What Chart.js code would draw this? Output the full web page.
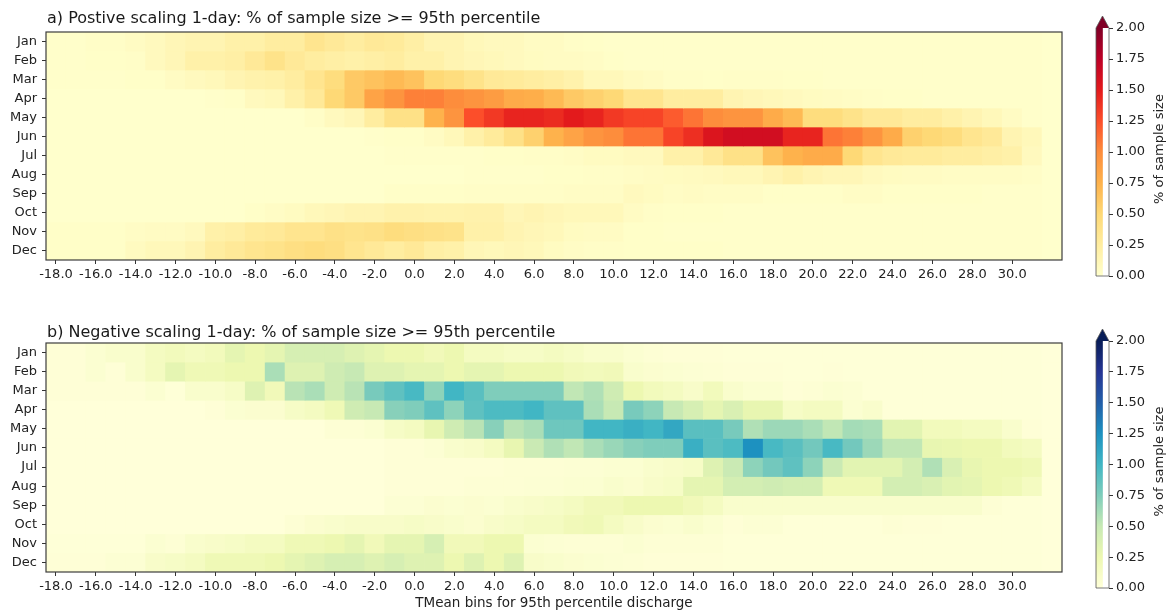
<!DOCTYPE html>
<html><head><meta charset="utf-8">
<script src="https://cdn.jsdelivr.net/npm/chart.js@4.4.0/dist/chart.umd.min.js"></script>
<style>
html,body{margin:0;padding:0;background:#fff;width:1172px;height:612px;overflow:hidden}
.box{position:absolute}
</style></head><body>
<div class="box" style="left:0;top:0;width:1080px;height:300px"><canvas id="hmA"></canvas></div>
<div class="box" style="left:1080px;top:0;width:92px;height:300px"><canvas id="cbA"></canvas></div>
<div class="box" style="left:0;top:310px;width:1080px;height:302px"><canvas id="hmB"></canvas></div>
<div class="box" style="left:1080px;top:310px;width:92px;height:302px"><canvas id="cbB"></canvas></div>
<script>
const months = ['Jan','Feb','Mar','Apr','May','Jun','Jul','Aug','Sep','Oct','Nov','Dec'];
const tempBins = [-18,-17,-16,-15,-14,-13,-12,-11,-10,-9,-8,-7,-6,-5,-4,-3,-2,-1,0,1,2,3,4,5,6,7,8,9,10,11,12,13,14,15,16,17,18,19,20,21,22,23,24,25,26,27,28,29,30,31,32];
const xTickValues = [-18,-16,-14,-12,-10,-8,-6,-4,-2,0,2,4,6,8,10,12,14,16,18,20,22,24,26,28,30];
const cbTickValues = [0,0.25,0.5,0.75,1,1.25,1.5,1.75,2];
const titleA = 'a) Postive scaling 1-day: % of sample size >= 95th percentile';
const titleB = 'b) Negative scaling 1-day: % of sample size >= 95th percentile';
const xTitle = 'TMean bins for 95th percentile discharge';
const cbLabel = '% of sample size';

// values (% of sample size), one row per month, columns = tempBins
const positive = [
 [0.01,0.01,0.03,0.03,0.05,0.08,0.12,0.15,0.15,0.2,0.2,0.25,0.25,0.35,0.3,0.25,0.3,
  0.28,0.22,0.15,0.15,0.1,0.08,0.08,0.05,0.05,0.03,0.02,0.01,0.01,0.01,0.01,0.01,0.01,
  0.01,0.01,0.01,0.01, 0.01,0.01,0.01,0.01, 0.01,0.01,0.01,0.01, 0.01,0.01,0.01,0.01, 0],
 [0.01,0.01,0.02,0.02,0.03,0.08,0.12,0.2,0.2,0.22,0.3,0.38,0.3,0.25,0.22,0.2,0.22,
  0.25,0.2,0.2,0.15,0.12,0.1,0.08,0.06,0.05,0.05,0.04,0.02,0.01,0.01,0.01,0.01,0.01,
  0.01,0.01,0.01,0.01, 0.01,0.01,0.01,0.01, 0.01,0.01,0.01,0.01, 0.01,0.01,0.01,0.01, 0],
 [0.01,0.01,0.01,0.01,0.02,0.02,0.05,0.08,0.1,0.15,0.18,0.2,0.25,0.35,0.45,0.6,0.65,
  0.7,0.65,0.5,0.45,0.38,0.3,0.28,0.25,0.22,0.18,0.1,0.1,0.07,0.05,0.03,0.03,0.02,
  0.03,0.03,0.03,0.02,0.02,0.01,0.01,0.01,0.01,0.01,0.01,0.01,0.01,0.01,0.01,0.01,0],
 [0,0,0,0,0,0,0,0,0.01,0.02,0.08,0.1,0.2,0.3,0.5,0.6,0.85,
  0.95,1.05,1.05,1.0,0.95,0.9,0.8,0.78,0.7,0.6,0.55,0.5,0.35,0.35,0.25,0.25,0.25,
  0.15,0.12,0.1,0.08,0.06,0.05,0.04,0.03,0.02,0.02,0.01,0.01,0.01,0.01,0.01,0.01,0],
 [0,0,0,0,0,0,0,0,0,0,0,0,0,0.03,0.08,0.12,0.25,
  0.4,0.4,0.75,0.95,1.25,1.35,1.45,1.45,1.42,1.5,1.45,1.35,1.3,1.3,1.2,1.1,1.0,
  0.95,0.95,0.8,0.7,0.45,0.45,0.38,0.3,0.3,0.25,0.25,0.2,0.15,0.1,0.05,0.01,0],
 [0,0,0,0, 0,0,0,0, 0,0,0,0, 0,0,0,0, 0.01,
  0.02,0.02,0.05,0.1,0.2,0.28,0.4,0.55,0.75,0.85,0.95,1.0,1.1,1.1,1.3,1.4,1.55,
  1.62,1.62,1.62,1.45,1.45,1.1,1.05,0.95,0.8,0.55,0.5,0.45,0.35,0.3,0.15,0.1,0],
 [0,0,0,0, 0,0,0,0, 0,0,0,0, 0,0,0,0, 0,
  0.01,0.01,0.01,0.01,0.01,0.02,0.02,0.03,0.03,0.04,0.06,0.06,0.08,0.08,0.2,0.2,0.3,
  0.4,0.4,0.65,0.75,0.8,0.8,0.5,0.35,0.3,0.28,0.28,0.25,0.25,0.22,0.2,0.08,0],
 [0,0,0,0, 0,0,0,0, 0,0,0,0, 0,0,0,0, 0,
  0,0,0,0,0.01,0.01,0.01,0.01,0.02,0.02,0.03,0.03,0.04,0.05,0.06,0.07,0.08,
  0.1,0.1,0.15,0.2,0.15,0.12,0.12,0.08,0.06,0.05,0.05,0.04,0.04,0.04,0.04,0.03,0],
 [0,0,0,0, 0,0,0,0, 0,0,0,0, 0,0,0,0, 0,
  0.02,0.02,0.02,0.02,0.03,0.03,0.03,0.03,0.03,0.04,0.04,0.04,0.08,0.06,0.04,0.05,0.04,
  0.04,0.04,0.02,0.02,0.02,0.02,0.04,0.04,0.02,0.02,0.02,0.02,0.02,0.01,0.01,0.01,0],
 [0,0,0,0,0,0,0,0,0,0,0.02,0.04,0.06,0.1,0.12,0.15,0.15,
  0.18,0.18,0.17,0.17,0.18,0.18,0.12,0.15,0.12,0.1,0.1,0.1,0.05,0.03,0.02,0.02,0.02,
  0.01,0.01,0.01,0.01, 0.01,0.01,0.01,0.01, 0.01,0.01,0.01,0.01, 0.01,0.01,0.01,0.01, 0],
 [0.02,0.02,0.02,0.02,0.04,0.05,0.05,0.08,0.2,0.22,0.28,0.3,0.35,0.35,0.4,0.38,0.4,
  0.45,0.42,0.4,0.38,0.2,0.2,0.15,0.12,0.1,0.06,0.05,0.05,0.02,0.02,0.01,0.01,0.01,
  0.01,0.01,0.01,0.01, 0.01,0.01,0.01,0.01, 0.01,0.01,0.01,0.01, 0.01,0.01,0.01,0.01, 0],
 [0.02,0.02,0.02,0.02,0.07,0.1,0.1,0.15,0.25,0.3,0.35,0.38,0.42,0.45,0.42,0.35,0.3,
  0.25,0.3,0.22,0.2,0.12,0.1,0.12,0.1,0.06,0.04,0.03,0.03,0.02,0.02,0.02,0.02,0.02,
  0.01,0.01,0.01,0.01, 0.01,0.01,0.01,0.01, 0.01,0.01,0.01,0.01, 0.01,0.01,0.01,0.01, 0]
];

const negative = [
 [0.02,0.02,0.05,0.08,0.08,0.15,0.18,0.15,0.18,0.3,0.25,0.3,0.4,0.4,0.4,0.35,0.3,
  0.25,0.25,0.2,0.25,0.15,0.15,0.12,0.12,0.15,0.12,0.08,0.08,0.05,0.03,0.02,0.02,0.02,
  0.01,0.01,0.01,0.01, 0.01,0.01,0.01,0.01, 0.01,0.01,0.01,0.01, 0.01,0.01,0.01,0.01, 0],
 [0.02,0.02,0.05,0.02,0.08,0.15,0.3,0.22,0.22,0.25,0.25,0.6,0.35,0.35,0.45,0.5,0.35,
  0.35,0.3,0.3,0.25,0.3,0.3,0.25,0.25,0.25,0.2,0.18,0.2,0.08,0.06,0.05,0.04,0.03,
  0.02,0.02,0.02,0.01,0.01,0.02,0.01,0.01,0.01,0.01,0.01,0.01,0.01,0.01,0.01,0.01,0],
 [0.02,0.02,0.02,0.02,0.02,0.05,0.01,0.08,0.08,0.12,0.35,0.2,0.55,0.6,0.45,0.55,0.78,
  0.88,0.97,0.7,1.0,0.9,0.75,0.75,0.75,0.75,0.52,0.58,0.45,0.25,0.18,0.15,0.1,0.18,
  0.08,0.05,0.05,0.02,0.03,0.05,0.04,0.01,0.01,0.01,0.01,0.01,0.01,0.01,0.01,0.01,0],
 [0,0,0,0,0,0,0,0,0.02,0.05,0.06,0.06,0.12,0.15,0.22,0.45,0.5,
  0.72,0.75,0.88,0.7,0.88,0.95,0.95,1.0,0.88,0.88,0.6,0.5,0.78,0.7,0.5,0.4,0.3,
  0.38,0.28,0.28,0.12,0.15,0.15,0.05,0.08,0.01,0.01,0.01,0.01,0.01,0.01,0.01,0.01,0],
 [0,0,0,0,0,0,0,0,0,0,0,0,0,0,0.03,0.03,0.05,
  0.12,0.15,0.28,0.45,0.55,0.72,0.55,0.6,0.82,0.82,1.0,1.0,1.05,1.0,1.1,0.9,0.9,
  0.78,0.58,0.65,0.65,0.6,0.52,0.62,0.6,0.32,0.32,0.18,0.18,0.15,0.15,0.08,0.02,0],
 [0,0,0,0, 0,0,0,0, 0,0,0,0, 0,0,0,0, 0,
  0.02,0.02,0.04,0.08,0.1,0.15,0.28,0.48,0.58,0.52,0.6,0.66,0.72,0.75,0.75,1.05,0.9,
  0.95,1.25,0.97,0.9,0.8,0.97,0.8,0.65,0.52,0.52,0.28,0.27,0.25,0.25,0.18,0.15,0],
 [0,0,0,0, 0,0,0,0, 0,0,0,0, 0,0,0,0, 0,
  0.02,0.02,0.02,0.02,0.02,0.02,0.03,0.03,0.03,0.04,0.04,0.05,0.05,0.08,0.1,0.12,0.35,
  0.48,0.7,0.8,0.88,0.7,0.48,0.32,0.32,0.32,0.42,0.58,0.38,0.28,0.25,0.25,0.22,0],
 [0,0,0,0, 0,0,0,0, 0,0,0,0, 0,0,0,0, 0,
  0.02,0.02,0.02,0.02,0.03,0.03,0.03,0.04,0.04,0.05,0.05,0.08,0.06,0.1,0.12,0.3,0.3,
  0.42,0.42,0.45,0.42,0.42,0.22,0.22,0.22,0.42,0.42,0.38,0.32,0.3,0.25,0.22,0.15,0],
 [0,0,0,0, 0,0,0,0, 0,0,0,0, 0,0,0,0, 0,
  0.04,0.04,0.06,0.05,0.06,0.05,0.08,0.1,0.12,0.15,0.2,0.2,0.25,0.25,0.25,0.2,0.15,
  0.08,0.08,0.08,0.08,0.08,0.08,0.08,0.08,0.08,0.08,0.08,0.08,0.08,0.03,0.01,0.01,0],
 [0,0,0,0,0,0,0,0,0,0,0,0,0.03,0.06,0.08,0.1,0.1,
  0.1,0.12,0.1,0.08,0.06,0.1,0.12,0.15,0.15,0.2,0.22,0.15,0.1,0.06,0.05,0.08,0.05,
  0.02,0.04,0.04,0.01,0.01,0.01,0.01,0.01,0.03,0.02,0.02,0.01,0.01,0.01,0.01,0.01,0],
 [0.01,0.01,0.01,0.01,0.01,0.05,0.03,0.08,0.1,0.12,0.15,0.15,0.22,0.22,0.25,0.3,0.2,
  0.3,0.3,0.4,0.2,0.2,0.25,0.25,0.05,0.04,0.03,0.03,0.03,0.05,0.03,0.03,0.03,0.03,
  0.01,0.01,0.01,0.01, 0.01,0.01,0.01,0.01, 0.01,0.01,0.01,0.01, 0.01,0.01,0.01,0.01, 0],
 [0.02,0.02,0.02,0.04,0.04,0.1,0.12,0.15,0.22,0.22,0.22,0.25,0.3,0.35,0.4,0.4,0.35,
  0.4,0.35,0.35,0.25,0.35,0.25,0.35,0.1,0.08,0.06,0.05,0.04,0.03,0.02,0.02,0.02,0.02,
  0.01,0.01,0.01,0.01, 0.01,0.01,0.01,0.01, 0.01,0.01,0.01,0.01, 0.01,0.01,0.01,0.01, 0]
];

// colormaps (matplotlib YlOrRd / YlGnBu anchors), range 0..2
const ylOrRd = ['#ffffcc','#ffeda0','#fed976','#feb24c','#fd8d3c','#fc4e2a','#e31a1c','#bd0026','#800026'];
const ylGnBu = ['#ffffd9','#edf8b1','#c7e9b4','#7fcdbb','#41b6c4','#1d91c0','#225ea8','#253494','#081d58'];
const vmin = 0, vmax = 2;
const FONT = "'DejaVu Sans', sans-serif";

function hexToRgb(h){ return [parseInt(h.substr(1,2),16),parseInt(h.substr(3,2),16),parseInt(h.substr(5,2),16)]; }
function cmap(stops, v){
  const t = Math.max(0, Math.min(1, (v - vmin) / (vmax - vmin))) * (stops.length - 1);
  const i = Math.min(Math.floor(t), stops.length - 2);
  const f = t - i;
  const a = hexToRgb(stops[i]), b = hexToRgb(stops[i+1]);
  const c = a.map((x, k) => Math.round(x + (b[k] - x) * f));
  return 'rgb(' + c.join(',') + ')';
}

const framePlugin = {
  id: 'frame',
  beforeDatasetsDraw(chart, args, o){
    const a = chart.chartArea, ctx = chart.ctx;
    ctx.save(); ctx.fillStyle = o.bg; ctx.fillRect(a.left, a.top, a.right - a.left, a.bottom - a.top); ctx.restore();
  },
  afterDraw(chart, args, o){
    const a = chart.chartArea, ctx = chart.ctx;
    ctx.save();
    ctx.strokeStyle = '#3c3c3c'; ctx.lineWidth = 1.2;
    ctx.strokeRect(a.left, a.top, a.right - a.left, a.bottom - a.top);
    ctx.fillStyle = '#1a1a1a'; ctx.font = '16px ' + FONT;
    ctx.textAlign = 'left'; ctx.textBaseline = 'middle';
    ctx.fillText(o.title, a.left + 1, a.top - o.gap);
    ctx.restore();
  }
};

function heatmap(id, values, stops, title, gap, padTop, showXTitle){
  const datasets = months.map((m, r) => ({
    label: m,
    data: tempBins.map(() => [r - 0.5, r + 0.5]),
    backgroundColor: values[r].map(v => cmap(stops, v)),
    borderWidth: 0,
    barPercentage: 1, categoryPercentage: 1, grouped: false
  }));
  return new Chart(document.getElementById(id), {
    type: 'bar',
    data: { labels: tempBins.map(String), datasets },
    plugins: [framePlugin],
    options: {
      responsive: true, maintainAspectRatio: false, animation: false,
      layout: { padding: { top: padTop, right: 18, left: 0, bottom: 0 } },
      plugins: { legend: { display: false }, tooltip: { enabled: false },
                 frame: { bg: cmap(stops, 0), title, gap } },
      scales: {
        x: {
          type: 'category', offset: true,
          grid: { display: true, drawOnChartArea: false, offset: false, tickLength: 4, color: '#333' },
          border: { display: false },
          ticks: { autoSkip: false, maxRotation: 0, minRotation: 0, padding: 3, color: '#222',
                   font: { family: FONT, size: 13 },
                   callback: (val) => Number(tempBins[val]).toFixed(1) },
          afterBuildTicks: (s) => { s.ticks = s.ticks.filter(t => xTickValues.includes(tempBins[t.value])); },
          title: { display: showXTitle, text: xTitle, color: '#222', font: { family: FONT, size: 13.5 }, padding: { top: 0, bottom: 0 } },
          afterFit: (s) => { s.height = 40; }
        },
        y: {
          type: 'linear', min: -0.5, max: 11.5, reverse: true,
          grid: { drawOnChartArea: false, tickLength: 4, color: '#333' },
          border: { display: false },
          ticks: { color: '#222', font: { family: FONT, size: 13 }, padding: 5,
                   callback: (v) => months[v] },
          afterBuildTicks: (s) => { s.ticks = months.map((m, i) => ({ value: i })); },
          afterFit: (s) => { s.width = 46; }
        }
      }
    }
  });
}

const cbarPlugin = {
  id: 'cbar',
  afterDraw(chart, args, o){
    const a = chart.chartArea, ctx = chart.ctx;
    const y = chart.scales.y;
    const top = y.getPixelForValue(vmax), bot = y.getPixelForValue(vmin);
    const cx = (a.left + a.right) / 2;
    ctx.save();
    ctx.beginPath();
    ctx.moveTo(a.left, top); ctx.lineTo(cx, top - 12); ctx.lineTo(a.right, top); ctx.closePath();
    ctx.fillStyle = o.over; ctx.fill();
    ctx.beginPath();
    ctx.moveTo(a.left, bot); ctx.lineTo(a.left, top); ctx.lineTo(cx, top - 12); ctx.lineTo(a.right, top); ctx.lineTo(a.right, bot); ctx.closePath();
    ctx.strokeStyle = '#555'; ctx.lineWidth = 0.8; ctx.stroke();
    ctx.translate(a.right + 51, (top + bot) / 2 - 3);
    ctx.rotate(-Math.PI / 2);
    ctx.fillStyle = '#222'; ctx.font = '13px ' + FONT; ctx.textAlign = 'center'; ctx.textBaseline = 'middle';
    ctx.fillText(cbLabel, 0, 0);
    ctx.restore();
  }
};

function colorbar(id, stops, padTop, padBottom){
  return new Chart(document.getElementById(id), {
    type: 'bar',
    data: { labels: ['cb'], datasets: [{
      data: [[vmin, vmax]],
      backgroundColor: (c) => {
        const ch = c.chart; const y = ch.scales.y;
        if (!ch.chartArea || !y) return stops[0];
        const g = ch.ctx.createLinearGradient(0, y.getPixelForValue(vmin), 0, y.getPixelForValue(vmax));
        stops.forEach((s, i) => g.addColorStop(i / (stops.length - 1), s));
        return g;
      },
      borderWidth: 0, barPercentage: 1, categoryPercentage: 1
    }]},
    plugins: [cbarPlugin],
    options: {
      responsive: true, maintainAspectRatio: false, animation: false,
      layout: { padding: { top: padTop, bottom: padBottom, left: 16, right: 0 } },
      plugins: { legend: { display: false }, tooltip: { enabled: false }, cbar: { over: stops[stops.length - 1] } },
      scales: {
        x: { display: false, offset: false },
        y: {
          position: 'right', min: vmin, max: vmax,
          grid: { drawOnChartArea: false, tickLength: 4, color: '#333' },
          border: { display: false },
          ticks: { color: '#222', font: { family: FONT, size: 13 }, padding: 3,
                   callback: (v) => Number(v).toFixed(2) },
          afterBuildTicks: (s) => { s.ticks = cbTickValues.map(v => ({ value: v })); },
          afterFit: (s) => { s.width = 63; }
        }
      }
    }
  });
}

heatmap('hmA', positive, ylOrRd, titleA, 13, 32, false);
colorbar('cbA', ylOrRd, 28, 24);
heatmap('hmB', negative, ylGnBu, titleB, 10, 33, true);
colorbar('cbB', ylGnBu, 31, 24);
</script>
</body></html>
